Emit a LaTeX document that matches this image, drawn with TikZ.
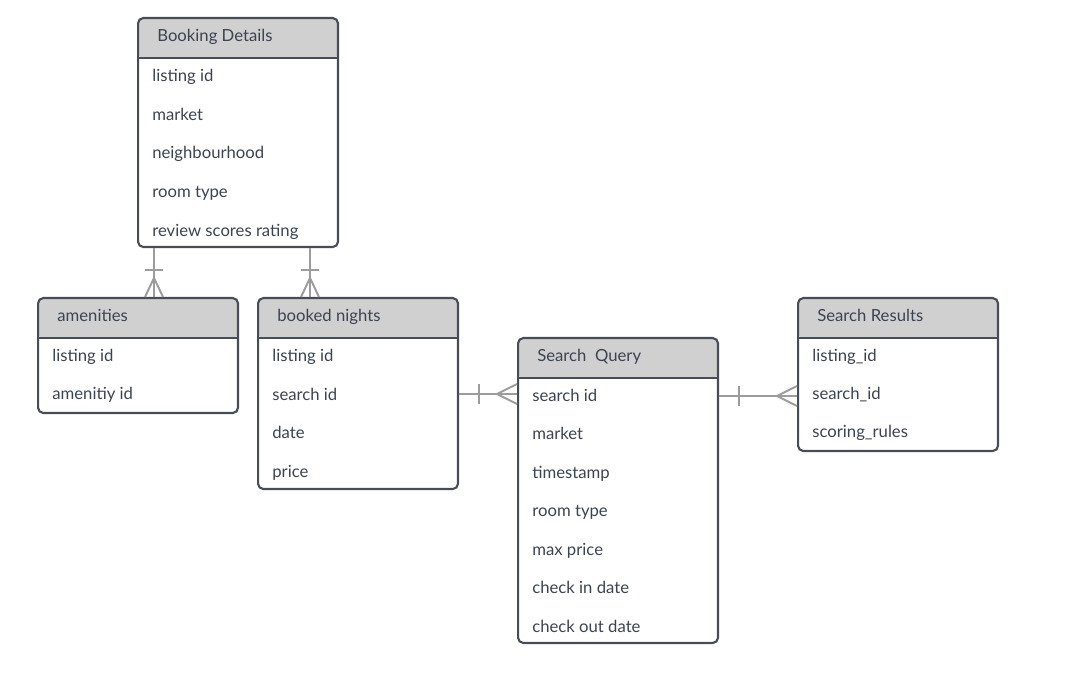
\documentclass[tikz,border=0pt]{standalone}
\usepackage{fontspec}
\setmainfont{Lato}
\usetikzlibrary{positioning,calc}
\definecolor{hdrgray}{HTML}{D0D0D0}
\definecolor{edge}{HTML}{474C55}
\definecolor{ink}{HTML}{3C4350}
\definecolor{linkgray}{HTML}{9C9C9C}

\begin{document}
\begin{tikzpicture}[x=0.02cm, y=-0.02cm,
    tbl/.style={draw=edge, line width=1.2pt, rounded corners=3pt, minimum width=4cm, anchor=north west, inner sep=0pt,
        path picture={\fill[hdrgray] (path picture bounding box.north west) rectangle ([yshift=-0.8cm]path picture bounding box.north east);
                      \draw[edge, line width=1.2pt] ([yshift=-0.8cm]path picture bounding box.north west) -- ([yshift=-0.8cm]path picture bounding box.north east);}},
    ttl/.style={anchor=west, text=ink, inner sep=0pt, text height=1.6ex, text depth=.4ex, font=\fontsize{9.5}{11}\selectfont},
    fld/.style={ttl},
    rel/.style={draw=linkgray, line width=1.1pt}]
    \useasboundingbox (0,0) rectangle (1086,695);

    % tables
    \node[tbl, minimum height=4.58cm] (bd) at (137,17) {};
    \node[ttl] (bd-t) at (157,36) {Booking Details};
    \foreach \f [count=\i] in {listing id, market, neighbourhood, room type, review scores rating}
        \node[fld] (bd-\i) at (152,{76+38.7*(\i-1)}) {\f};

    \node[tbl, minimum height=2.3cm] (am) at (37,297) {};
    \node[ttl] (am-t) at (57,316) {amenities};
    \foreach \f [count=\i] in {listing id, amenitiy id}
        \node[fld] (am-\i) at (52,{356+38.5*(\i-1)}) {\f};

    \node[tbl, minimum height=3.82cm] (bn) at (257,297) {};
    \node[ttl] (bn-t) at (277,316) {booked nights};
    \foreach \f [count=\i] in {listing id, search id, date, price}
        \node[fld] (bn-\i) at (272,{356+38.7*(\i-1)}) {\f};

    \node[tbl, minimum height=6.1cm] (sq) at (517,337) {};
    \node[ttl] (sq-t) at (537,356) {Search\ \ Query};
    \foreach \f [count=\i] in {search id, market, timestamp, room type, max price, check in date, check out date}
        \node[fld] (sq-\i) at (532,{396+38.5*(\i-1)}) {\f};

    \node[tbl, minimum height=3.06cm] (sr) at (797,297) {};
    \node[ttl] (sr-t) at (817,316) {Search Results};
    \foreach \f [count=\i] in {listing\_id, search\_id, scoring\_rules}
        \node[fld] (sr-\i) at (812,{356+38*(\i-1)}) {\f};

    % booking details -- amenities
    \draw[rel] (bd.south west) ++(17,0) coordinate (p) -- (p |- am.north);
    \draw[rel] (bd.south west) ++(8,22) -- ++(18,0);
    \draw[rel] (am.north west) ++(108,0) -- ++(9,-19) -- ++(9,19);

    % booking details -- booked nights
    \draw[rel] (bd.south west) ++(173,0) coordinate (p) -- (p |- bn.north);
    \draw[rel] (bd.south west) ++(164,22) -- ++(18,0);
    \draw[rel] (bn.north west) ++(44,0) -- ++(9,-19) -- ++(9,19);

    % booked nights -- search query
    \draw[rel] (bn.north east) ++(0,97) coordinate (p) -- (p -| sq.west);
    \draw[rel] (bn.north east) ++(20,87) -- ++(0,20);
    \draw[rel] (sq.north west) ++(0,47) -- ++(-20,10) -- ++(20,10);

    % search query -- search results
    \draw[rel] (sq.north east) ++(0,59) coordinate (p) -- (p -| sr.west);
    \draw[rel] (sq.north east) ++(20,49) -- ++(0,20);
    \draw[rel] (sr.north west) ++(0,89) -- ++(-20,10) -- ++(20,10);
\end{tikzpicture}
\end{document}
